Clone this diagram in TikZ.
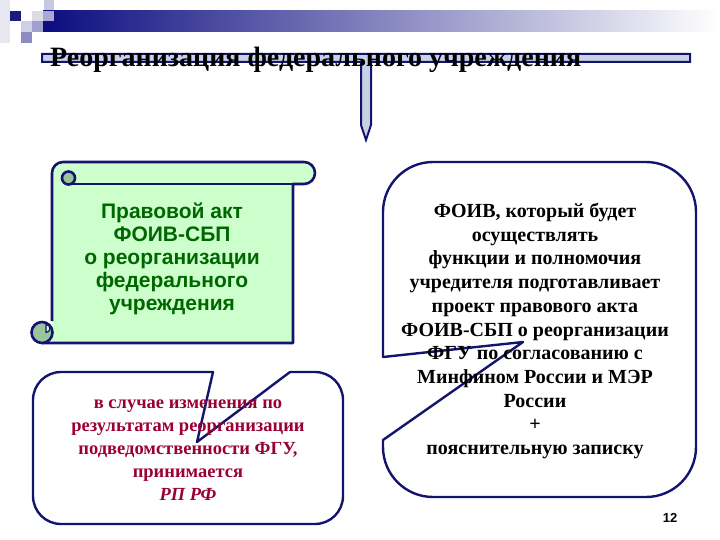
\documentclass[tikz,border=0pt]{standalone}
\usepackage{fontspec}
\setmainfont{Liberation Serif}
\newfontfamily\arialf{Liberation Sans}
\definecolor{navyline}{RGB}{20,20,110}
\definecolor{bannerdark}{RGB}{12,12,128}
\definecolor{scrollgreen}{RGB}{204,255,204}
\definecolor{curlgreen}{RGB}{156,196,156}
\definecolor{textgreen}{RGB}{0,102,0}
\definecolor{crimson}{RGB}{153,0,51}
\definecolor{tfill}{RGB}{200,210,226}
\definecolor{sqA}{RGB}{232,232,242}
\definecolor{sqB}{RGB}{200,200,224}
\definecolor{sqC}{RGB}{28,28,128}
\definecolor{sqD}{RGB}{220,220,232}
\definecolor{sqE}{RGB}{168,168,208}
\definecolor{sqF}{RGB}{208,208,228}
\definecolor{sqG}{RGB}{160,160,204}
\definecolor{sqH}{RGB}{140,140,192}
\tikzset{
  outline/.style={draw=navyline, line width=2.6bp},
  calloutline/.style={draw=navyline, line width=2.4bp, line cap=round},
  scrolltext/.style={align=center, inner sep=0pt, text=textgreen,
    font=\arialf\bfseries\fontsize{21bp}{23bp}\selectfont},
  righttext/.style={align=center, inner sep=0pt, text=black,
    font=\bfseries\fontsize{20bp}{23.7bp}\selectfont},
  lefttext/.style={align=center, inner sep=0pt, text=crimson,
    font=\bfseries\fontsize{18.5bp}{23bp}\selectfont},
}
\begin{document}
\begin{tikzpicture}[x=1bp,y=-1bp,line join=round]
\useasboundingbox (0,0) rectangle (720,540);
% banner
\shade[left color=bannerdark, right color=white] (43,11) rectangle (720,32);
\fill[sqA] (0,0) rectangle (10,43);
\fill[sqB] (44,0) rectangle (54,10);
\fill[sqC] (10,11) rectangle (21,21);
\fill[sqD] (32,11) rectangle (43,21);
\fill[sqE] (43,11) rectangle (54,21);
\fill[sqF] (21,21) rectangle (32,32);
\fill[sqG] (32,21) rectangle (43,32);
\fill[sqH] (21,32) rectangle (32,43);
% T bar
\filldraw[fill=tfill, draw=navyline, line width=2bp, line join=miter]
  (42,54) -- (690,54) -- (690,62) -- (371,62) -- (371,125) -- (366,140)
  -- (361,125) -- (361,62) -- (42,62) -- cycle;
\node[anchor=base west, inner sep=0pt, font=\bfseries\fontsize{28bp}{33bp}\selectfont]
  (title) at (50,67) {Реорганизация федерального учреждения};
% scroll
\fill[scrollgreen] (52,343) -- (52,173) arc[start angle=180,end angle=270,radius=11]
  -- (304,162) arc[start angle=270,end angle=450,radius=11]
  -- (293,184) -- (293,343) -- cycle;
\draw[outline] (52,321) -- (52,173) arc[start angle=180,end angle=270,radius=11]
  -- (304,162) arc[start angle=270,end angle=450,radius=11]
  -- (293,184) -- (293,343) -- (42,343);
\draw[outline] (68,184) -- (293,184);
\filldraw[outline, fill=curlgreen] (68.5,178) circle[radius=6.5];
\filldraw[outline, fill=curlgreen] (42,332.5) circle[radius=10.5];
\filldraw[draw=navyline, line width=1.2bp, fill=scrollgreen]
  (46,324.5) arc[start angle=270,end angle=450,radius=4] -- cycle;
\node[scrolltext] (act) at (172,259) {Правовой акт\\ФОИВ-СБП\\о реорганизации\\федерального\\учреждения};
% right callout
\draw[calloutline, rounded corners=50bp] (383,357) -- (383,162) -- (696,162)
  -- (696,497) -- (383,497) -- (383,440);
\draw[calloutline] (383,440) -- (523,342) -- (383,357);
\node[righttext] (foiv) at (535,331) {ФОИВ, который будет\\осуществлять\\функции и полномочия\\учредителя подготавливает\\проект правового акта\\ФОИВ-СБП о реорганизации\\ФГУ по согласованию с\\Минфином России и МЭР\\России\\+\\пояснительную записку};
% left callout
\draw[calloutline, rounded corners=28bp] (290,372) -- (343,372) -- (343,524)
  -- (33,524) -- (33,372) -- (213,372);
\draw[calloutline] (213,372) -- (197,442) -- (290,372);
\node[lefttext] (case) at (188,450) {в случае изменения по\\результатам реорганизации\\подведомственности ФГУ,\\принимается\\\textit{РП РФ}};
\node[inner sep=0pt, font=\arialf\bfseries\fontsize{13bp}{15bp}\selectfont] (page) at (670,518) {12};
\end{tikzpicture}
\end{document}
